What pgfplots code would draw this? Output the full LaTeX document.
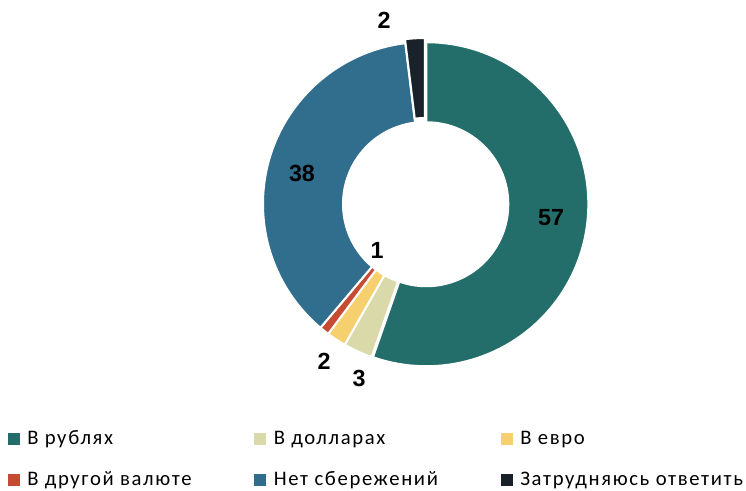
\documentclass[border=0pt]{standalone}
\usepackage{pgfplots}
\pgfplotsset{compat=1.18}
\usepackage{pgfplotstable}
\usepackage{fontspec}
\setmainfont{Carlito}
\newfontfamily\legfont[LetterSpace=8]{Carlito}
\newfontfamily\arialfont{Liberation Sans}
\definecolor{cRub}{HTML}{236E6A}
\definecolor{cUsd}{HTML}{D9D9A9}
\definecolor{cEur}{HTML}{F6D06F}
\definecolor{cOth}{HTML}{C74B33}
\definecolor{cNone}{HTML}{316E8E}
\definecolor{cDk}{HTML}{19222B}
\pgfplotstableread{
value col explode
57 cRub 1.0
3 cUsd 0
2 cEur 0
1 cOth 0
38 cNone 0
2 cDk 3.0
}\donutdata
\begin{document}
\begin{tikzpicture}
\begin{axis}[
  width=559.5pt, height=367.5pt, scale only axis,
  xmin=0, xmax=746, ymin=0, ymax=490, y dir=reverse,
  hide axis, clip=false,
  legend columns=3,
  legend cell align=left,
  legend style={at={(axis description cs:0.010724,0.12286)}, anchor=north west,
    draw=none, fill=none, inner sep=0pt, outer sep=0pt,
    column sep=0pt, row sep=16.95pt,
    font=\legfont\fontsize{15.5}{18}\selectfont,
    nodes={inner sep=0pt, outer sep=0pt, text height=11pt, text depth=2.8pt}},
  legend image code/.code={\fill[#1] (0pt,-4.5pt) rectangle (9pt,4.5pt);},
]
\pgfplotstablegetrowsof{\donutdata}
\pgfmathtruncatemacro\nrows{\pgfplotsretval-1}
\def\total{0}
\pgfplotsforeachungrouped \i in {0,...,\nrows}{%
  \pgfplotstablegetelem{\i}{value}\of\donutdata
  \pgfmathsetmacro\total{\total+\pgfplotsretval}%
}
\def\cum{0}
\pgfplotsforeachungrouped \i in {0,...,\nrows}{%
  \pgfplotstablegetelem{\i}{value}\of\donutdata \let\slv\pgfplotsretval
  \pgfplotstablegetelem{\i}{col}\of\donutdata \let\slc\pgfplotsretval
  \pgfplotstablegetelem{\i}{explode}\of\donutdata \let\sle\pgfplotsretval
  \pgfmathsetmacro\sla{90-\cum/\total*360}%
  \pgfmathsetmacro\slb{90-(\cum+\slv)/\total*360}%
  \pgfmathsetmacro\slm{(\sla+\slb)/2}%
  \pgfmathsetmacro\cum{\cum+\slv}%
  \edef\temp{\noexpand\fill[\slc, draw=white, line width=1.5pt, shift={(\slm:\sle pt)}]
    ([shift={(\sla:121.5pt)}]axis cs:425,204) arc[start angle=\sla, end angle=\slb, radius=121.5pt]
    -- ([shift={(\slb:61.5pt)}]axis cs:425,204) arc[start angle=\slb, end angle=\sla, radius=61.5pt] -- cycle;}%
  \temp
}
\addlegendimage{fill=cRub,draw=none}
\addlegendentry{\hspace*{5.5pt}\makebox[170.35pt][l]{В рублях}}
\addlegendimage{fill=cUsd,draw=none}
\addlegendentry{\hspace*{5.5pt}\makebox[170.35pt][l]{В долларах}}
\addlegendimage{fill=cEur,draw=none}
\addlegendentry{\hspace*{5.5pt}\makebox[170.35pt][l]{В евро}}
\addlegendimage{fill=cOth,draw=none}
\addlegendentry{\hspace*{5.5pt}\makebox[170.35pt][l]{В другой валюте}}
\addlegendimage{fill=cNone,draw=none}
\addlegendentry{\hspace*{5.5pt}\makebox[170.35pt][l]{Нет сбережений}}
\addlegendimage{fill=cDk,draw=none}
\addlegendentry{\hspace*{5.5pt}\makebox[170.35pt][l]{Затрудняюсь ответить}}
\begin{scope}[font=\arialfont\bfseries\fontsize{17.5}{20}\selectfont]
\node at (axis cs:551,217.5) {57};
\node at (axis cs:302,173.5) {38};
\node at (axis cs:377,250) {1};
\node at (axis cs:324,361) {2};
\node at (axis cs:359,378) {3};
\node at (axis cs:384,20) {2};
\end{scope}
\coordinate (BL) at (axis cs:0,490);
\coordinate (TR) at (axis cs:746,0);
\end{axis}
\pgfresetboundingbox
\path[use as bounding box] (BL) rectangle (TR);
\end{tikzpicture}
\end{document}
